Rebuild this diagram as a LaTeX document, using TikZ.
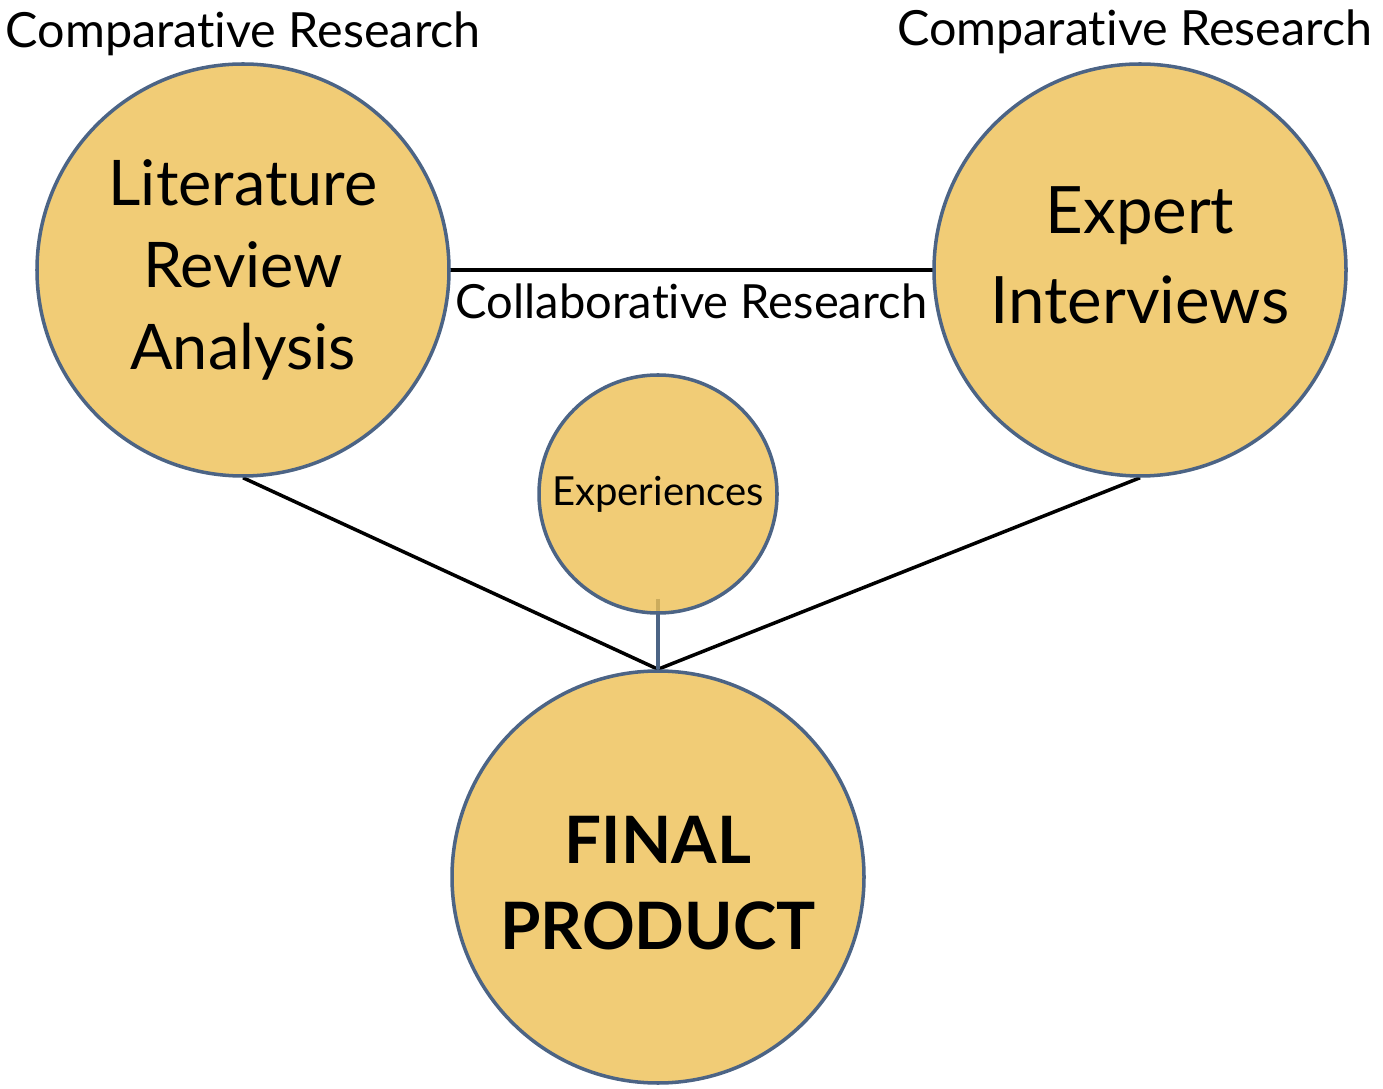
\documentclass[tikz,border=0pt]{standalone}
\usepackage{fontspec}
\setmainfont{Lato}[Ligatures=NoCommon]
\usetikzlibrary{calc,positioning,backgrounds}
\definecolor{gold}{HTML}{EDBF54}
\definecolor{slate}{HTML}{4C6485}
\tikzset{
	bubble/.style={circle, draw=slate, fill=gold, fill opacity=0.8, text opacity=1, draw opacity=1, line width=1pt, inner sep=0pt, align=center, text=black},
	tie/.style={line width=1pt, color=black},
	lbl/.style={inner sep=0pt, font=\fontsize{13.8}{16}\selectfont}
}

\begin{document}
\begin{tikzpicture}
			%%%%% START %%%%%
			
			\useasboundingbox (0, 0) rectangle (13.83, 10.88);
			
			\node[bubble, minimum size=4.12cm, font=\fontsize{17.9}{23.3}\selectfont] (lit) at (2.43, 8.18) {Literature\\Review\\Analysis};
			\node[bubble, minimum size=4.12cm, text depth=0.3cm, font=\fontsize{18.6}{25.5}\selectfont] (expert) at (11.40, 8.18) {Expert\\Interviews};
			\node[bubble, minimum size=2.38cm, font=\fontsize{11.4}{13}\selectfont] (exp) at (6.58, 5.94) {Experiences};
			\node[bubble, minimum size=4.12cm, text height=1.46cm, font=\fontsize{18.6}{24.4}\selectfont\bfseries] (final) at (6.58, 2.11) {FINAL\\PRODUCT};
			
			\node[lbl, anchor=base west] (cmpl) at (0.05, 10.40) {Comparative Research};
			\node[lbl, anchor=base east] (cmpr) at (13.73, 10.42) {Comparative Research};
			
			\coordinate (litedge) at ($(lit.east)+(-0.04, 0)$);
			\coordinate (expertedge) at ($(expert.west)+(0.04, 0)$);
			\coordinate (expfoot) at ($(exp.south)+(0, 0.16)$);
			
			\begin{pgfonlayer}{background}
				\draw[tie] (litedge) -- (expertedge) node[lbl, font=\fontsize{13.4}{16}\selectfont, midway, below=0.12] (collab) {Collaborative Research};
				\draw[tie] (lit.south) -- (final.north);
				\draw[tie] (expert.south) -- (final.north);
				\draw[line width=1pt, color=slate] (expfoot) -- (final.north);
			\end{pgfonlayer}
			
			%%%%% END %%%%%
		\end{tikzpicture}
\end{document}
